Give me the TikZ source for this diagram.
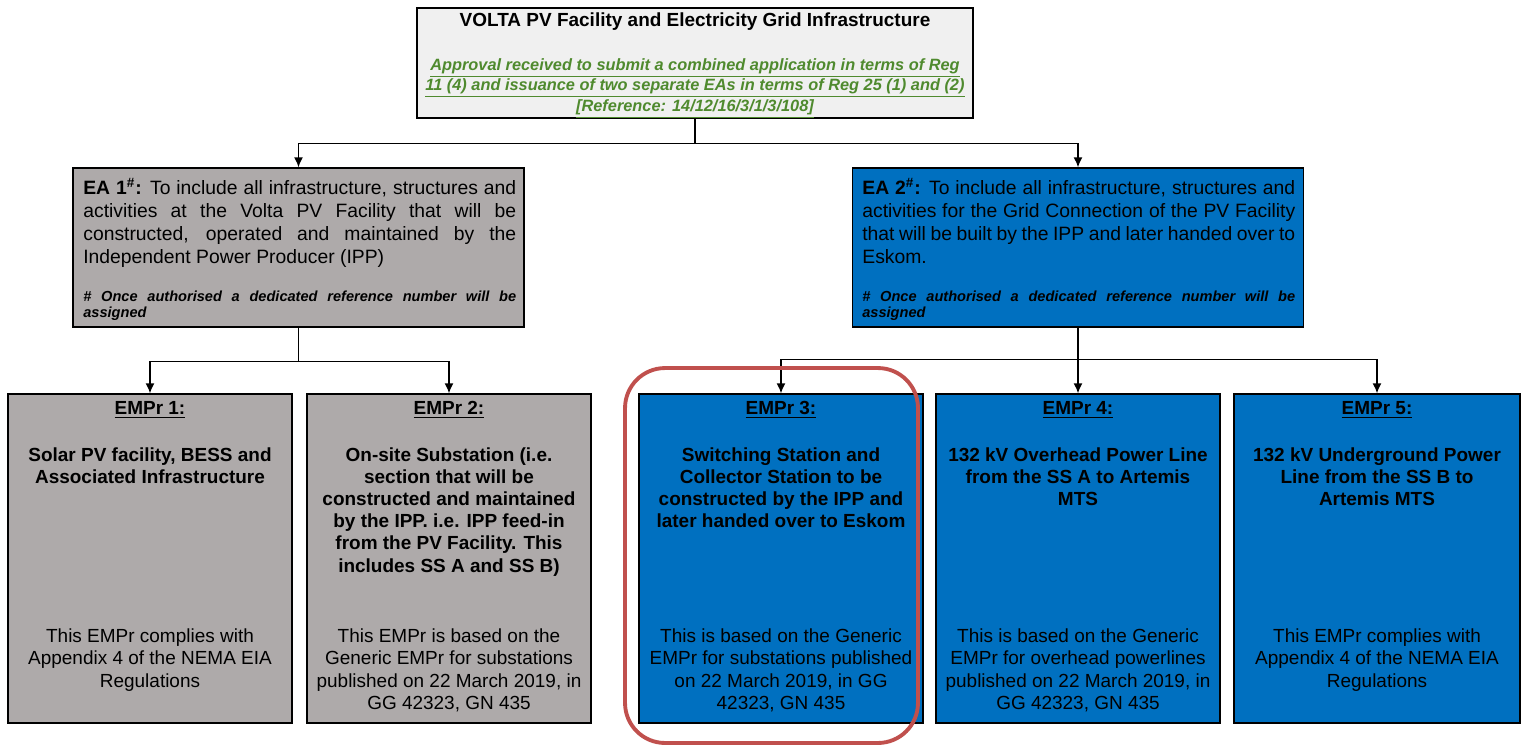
\documentclass[tikz,border=0pt]{standalone}
\usepackage{fontspec}
\setmainfont{Liberation Sans}
\usepackage{xcolor}
\usepackage{tikz}
\usetikzlibrary{arrows.meta, positioning}

\definecolor{boxgray}{HTML}{AEAAAA}
\definecolor{boxblue}{HTML}{0070C0}
\definecolor{topgray}{HTML}{F0F0F0}
\definecolor{refgreen}{HTML}{4F8A2E}
\definecolor{markred}{HTML}{C0504D}

\begin{document}
\begin{tikzpicture}[
    x=0.02cm, y=-0.02cm,
    box/.style={draw, line width=0.8pt, inner sep=0pt},
    eabox/.style={box, minimum width=9.02cm, minimum height=3.18cm},
    emprbox/.style={box, minimum width=5.68cm, minimum height=6.58cm},
    head/.style={font=\bfseries\fontsize{10.8}{12.6}\selectfont, inner sep=0pt, anchor=north},
    title/.style={font=\bfseries\fontsize{10.8}{12.6}\selectfont, inner sep=0pt, anchor=north, align=center},
    foot/.style={font=\fontsize{10.8}{12.7}\selectfont, inner sep=0pt, anchor=north, align=center},
    eatext/.style={font=\fontsize{11}{13}\selectfont, inner sep=0pt, anchor=north west, text width=8.66cm, align=justify},
    eanote/.style={font=\bfseries\itshape\fontsize{8.3}{9.1}\selectfont, inner sep=0pt, anchor=north west, text width=8.66cm, align=justify},
    arrow/.style={-{Latex[length=2mm,width=1.8mm]}, line width=0.85pt},
    hilite/.style={draw=markred, line width=2.2pt, rounded corners=0.8cm, minimum width=5.86cm, minimum height=7.5cm}
]
\useasboundingbox (0,0) rectangle (1524,745);

% Project box
\node[box, fill=topgray, minimum width=11.12cm, minimum height=2.2cm] (top) at (695,63) {};
\node[head, anchor=center] (toptitle) at (695,22) {VOLTA PV Facility and Electricity Grid Infrastructure};
\node[inner sep=0pt, anchor=north, align=center, text=refgreen,
      font=\bfseries\itshape\fontsize{9.3}{10.3}\selectfont] (approval) at (695,58)
  {\underline{Approval received to submit a combined application in terms of Reg}\\
   \underline{11 (4) and issuance of two separate EAs in terms of Reg 25 (1) and (2)}\\
   \underline{[Reference: 14/12/16/3/1/3/108]}};

% Environmental authorisations
\node[eabox, fill=boxgray] (ea1) at (298.5,247.5) {};
\node[eatext] (ea1txt) at (83,178) {\textbf{EA 1\textsuperscript{\#}:} To include all infrastructure, structures and\linebreak
  activities at the Volta PV Facility that will be\linebreak
  constructed, operated and maintained by the\linebreak
  Independent Power Producer (IPP)};
\node[eanote] (ea1note) at (83,291) {\# Once authorised a dedicated reference number will be\linebreak assigned};

\node[eabox, fill=boxblue] (ea2) at (1078,247.5) {};
\node[eatext] (ea2txt) at (862,178) {\textbf{EA 2\textsuperscript{\#}:} To include all infrastructure, structures and\linebreak
  activities for the Grid Connection of the PV Facility\linebreak
  that will be built by the IPP and later handed over to\linebreak
  Eskom.};
\node[eanote] (ea2note) at (862,291) {\# Once authorised a dedicated reference number will be\linebreak assigned};

% EMPr boxes
\node[emprbox, fill=boxgray] (e1) at (150,558.5) {};
\node[emprbox, fill=boxgray] (e2) at (449,558.5) {};
\node[emprbox, fill=boxblue] (e3) at (781,558.5) {};
\node[emprbox, fill=boxblue] (e4) at (1078,558.5) {};
\node[emprbox, fill=boxblue, minimum width=5.72cm] (e5) at (1377,558.5) {};

\node[head, below=0.16cm of e1.north] (h1) {\underline{EMPr 1:}};
\node[title, below=1.08cm of e1.north] (t1) {Solar PV facility, BESS and\\Associated Infrastructure};
\node[foot, below=4.7cm of e1.north] (f1) {This EMPr complies with\\Appendix 4 of the NEMA EIA\\Regulations};

\node[head, below=0.16cm of e2.north] (h2) {\underline{EMPr 2:}};
\node[title, below=1.08cm of e2.north] (t2) {On-site Substation (i.e.\\section that will be\\constructed and maintained\\by the IPP. i.e. IPP feed-in\\from the PV Facility. This\\includes SS A and SS B)};
\node[foot, below=4.7cm of e2.north] (f2) {This EMPr is based on the\\Generic EMPr for substations\\published on 22 March 2019, in\\GG 42323, GN 435};

\node[head, below=0.16cm of e3.north] (h3) {\underline{EMPr 3:}};
\node[title, below=1.08cm of e3.north] (t3) {Switching Station and\\Collector Station to be\\constructed by the IPP and\\later handed over to Eskom};
\node[foot, below=4.7cm of e3.north] (f3) {This is based on the Generic\\EMPr for substations published\\on 22 March 2019, in GG\\42323, GN 435};

\node[head, below=0.16cm of e4.north] (h4) {\underline{EMPr 4:}};
\node[title, below=1.08cm of e4.north] (t4) {132 kV Overhead Power Line\\from the SS A to Artemis\\MTS};
\node[foot, below=4.7cm of e4.north] (f4) {This is based on the Generic\\EMPr for overhead powerlines\\published on 22 March 2019, in\\GG 42323, GN 435};

\node[head, below=0.16cm of e5.north] (h5) {\underline{EMPr 5:}};
\node[title, below=1.08cm of e5.north] (t5) {132 kV Underground Power\\Line from the SS B to\\Artemis MTS};
\node[foot, below=4.7cm of e5.north] (f5) {This EMPr complies with\\Appendix 4 of the NEMA EIA\\Regulations};

% Connectors
\draw[line width=0.85pt] (top.south) -- ++(0,25) coordinate (j0);
\draw[arrow] (j0) -| (ea1.north);
\draw[arrow] (j0) -| (ea2.north);

\draw[line width=0.85pt] (ea1.south) -- ++(0,34) coordinate (j1);
\draw[arrow] (j1) -| (e1.north);
\draw[arrow] (j1) -| (e2.north);

\draw[line width=0.85pt] (ea2.south) -- ++(0,32) coordinate (j2);
\draw[arrow] (j2) -| (e3.north);
\draw[arrow] (j2) -- (e4.north);
\draw[arrow] (j2) -| (e5.north);

% Highlight
\node[hilite] (mark) at (771.5,555.5) {};

\end{tikzpicture}
\end{document}
